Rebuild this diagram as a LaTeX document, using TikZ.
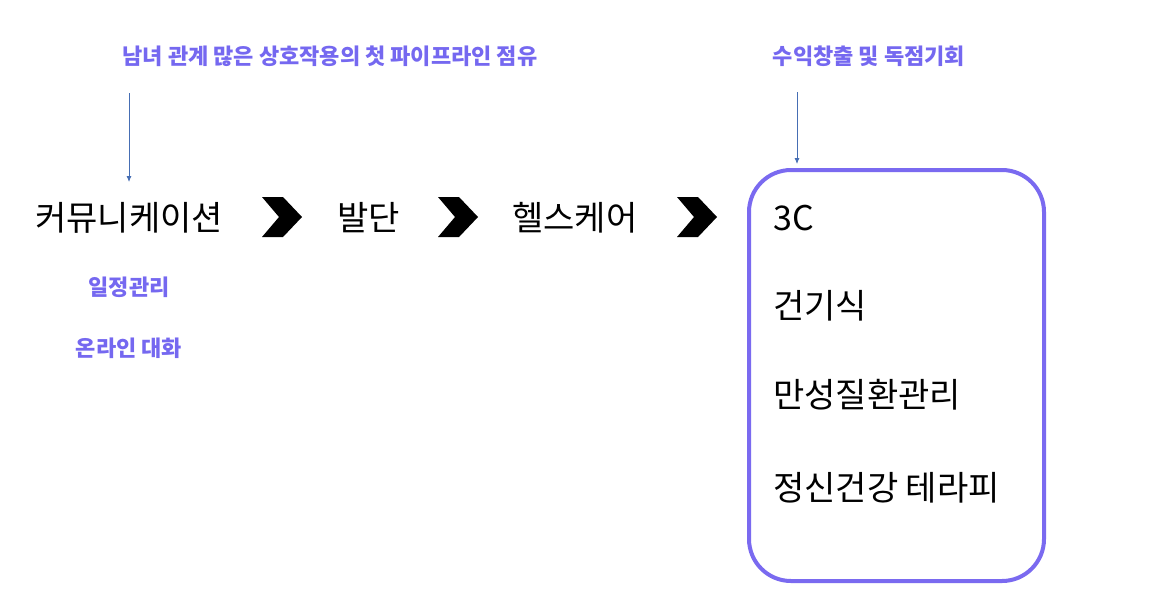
\documentclass[tikz,border=0pt]{standalone}
\usepackage{fontspec}
\setmainfont{Noto Sans CJK KR}
\usetikzlibrary{arrows.meta}
\definecolor{lblpurple}{RGB}{117,104,240}
\definecolor{boxpurple}{RGB}{122,106,240}
\definecolor{arrowblue}{RGB}{70,110,180}
\tikzset{
  lbl/.style={font=\fontsize{22}{24}\selectfont\bfseries, text=lblpurple, inner sep=0pt, anchor=base},
  bigtxt/.style={font=\fontsize{34}{36}\selectfont, text=black, inner sep=0pt, anchor=base west},
  chev/.style={fill=black, draw=none},
  pointer/.style={draw=arrowblue, line width=0.8pt, -{Latex[length=6pt,width=5pt]}},
  frame/.style={draw=boxpurple, line width=4pt, rounded corners=42pt}
}
\begin{document}
\begin{tikzpicture}[x=1pt,y=-1pt]
\useasboundingbox (0,0) rectangle (1174,606);
% top labels
\node[lbl] (top1) at (330,64) {남녀 관계 많은 상호작용의 첫 파이프라인 점유};
\node[lbl] (top2) at (869,64) {수익창출 및 독점기회};
% pointers
\coordinate (p1s) at (129,93);
\coordinate (p1e) at (129,182);
\coordinate (p2s) at (797,92);
\coordinate (p2e) at (797,164);
\draw[pointer] (p1s) -- (p1e);
\draw[pointer] (p2s) -- (p2e);
% main flow
\node[bigtxt] (comm) at (35,230) {커뮤니케이션};
\node[bigtxt] (bal) at (337,230) {발단};
\node[bigtxt] (health) at (512,230) {헬스케어};
% chevrons
\foreach \cx in {262,438,677}{
  \fill[chev] (\cx,197) -- (\cx+21,197) -- (\cx+40,217) -- (\cx+21,237) -- (\cx,237) -- (\cx+17,217) -- cycle;
}
% sub labels
\node[lbl] (sched) at (129,295) {일정관리};
\node[lbl] (chat) at (129,356) {온라인 대화};
% box
\draw[frame] (749,170) rectangle (1044,581);
\node[bigtxt] (c3) at (773,230) {3C};
\node[bigtxt] (food) at (773,318) {건기식};
\node[bigtxt] (chronic) at (773,407) {만성질환관리};
\node[bigtxt] (mental) at (773,500) {정신건강 테라피};
\end{tikzpicture}
\end{document}
